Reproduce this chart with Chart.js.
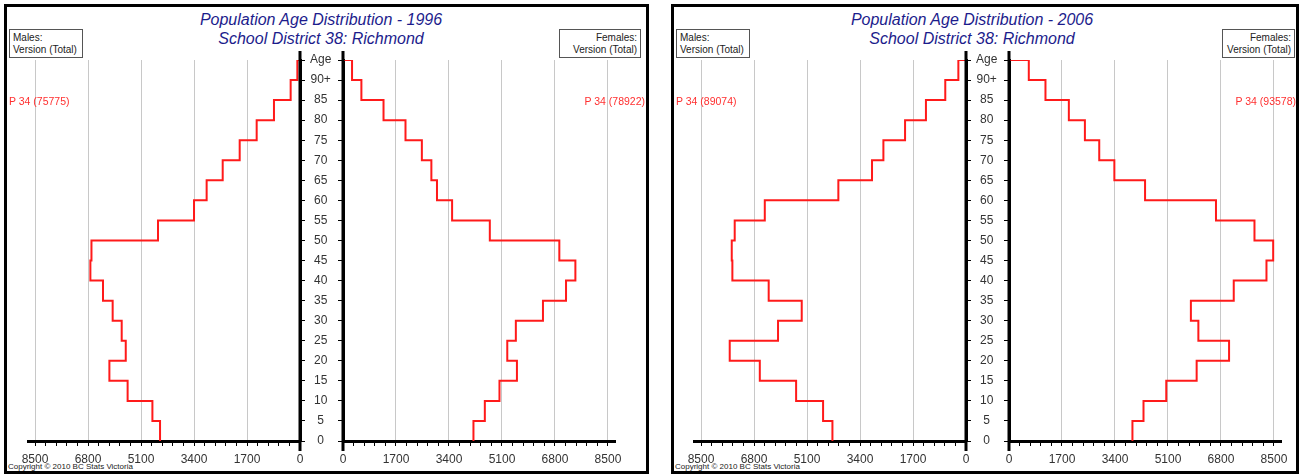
<!DOCTYPE html>
<html>
<head>
<meta charset="utf-8">
<script src="https://cdn.jsdelivr.net/npm/chart.js@4/dist/chart.umd.min.js"></script>
<style>
  body { margin: 0; width: 1300px; height: 474px; position: relative; overflow: hidden; background: #fff;
         font-family: Arial, "Liberation Sans", sans-serif; }
  .panel { position: absolute; border: 3px solid #000; box-sizing: border-box; }
  .title { position: absolute; text-align: center; font-style: italic; color: #1c1c8c; font-size: 16px; line-height: 19px; }
  .box { position: absolute; border: 1px solid #555; font-size: 10px; line-height: 12px; color: #222;
         padding: 2px 3px; box-sizing: border-box; background: #fff; white-space: nowrap; }
  .ptxt { position: absolute; color: #ff3030; font-size: 10.5px; line-height: 12px; z-index: 2; }
  .copy { position: absolute; font-size: 8px; color: #222; line-height: 9px; }
  canvas { position: absolute; z-index: 1; }
</style>
</head>
<body>
<div class="panel" style="left:4px; top:4px; width:645px; height:470px;"></div>
<div class="panel" style="left:671px; top:4px; width:628px; height:470px;"></div>

<div class="title" style="left:121px; top:10px; width:400px;">Population Age Distribution - 1996<br>School District 38: Richmond</div>
<div class="title" style="left:772px; top:10px; width:400px;">Population Age Distribution - 2006<br>School District 38: Richmond</div>

<div class="box" style="left:9px; top:29px; width:74px; height:29px;">Males:<br>Version (Total)</div>
<div class="box" style="left:559px; top:29px; width:82px; height:29px; text-align:right;">Females:<br>Version (Total)</div>
<div class="box" style="left:676px; top:29px; width:74px; height:29px;">Males:<br>Version (Total)</div>
<div class="box" style="left:1222px; top:29px; width:73px; height:29px; text-align:right;">Females:<br>Version (Total)</div>

<div class="ptxt" style="left:9px; top:95px;">P 34 (75775)</div>
<div class="ptxt" style="right:655px; top:95px;">P 34 (78922)</div>
<div class="ptxt" style="left:676px; top:95px;">P 34 (89074)</div>
<div class="ptxt" style="right:4px; top:95px;">P 34 (93578)</div>

<div class="copy" style="left:8px; top:462px;">Copyright © 2010 BC Stats Victoria</div>
<div class="copy" style="left:675px; top:462px;">Copyright © 2010 BC Stats Victoria</div>

<canvas id="m1996" style="left:0px; top:0px;" width="343" height="474"></canvas>
<canvas id="f1996" style="left:330px; top:0px;" width="320" height="474"></canvas>
<canvas id="m2006" style="left:666px; top:0px;" width="343" height="474"></canvas>
<canvas id="f2006" style="left:996px; top:0px;" width="304" height="474"></canvas>

<script>
// age group starts (0-4 ... 90+)
const ageStarts = [0, 5, 10, 15, 20, 25, 30, 35, 40, 45, 50, 55, 60, 65, 70, 75, 80, 85, 90];
const ageTicks = [0, 5, 10, 15, 20, 25, 30, 35, 40, 45, 50, 55, 60, 65, 70, 75, 80, 85, 90, 95];
const ageTickLabels = ['0', '5', '10', '15', '20', '25', '30', '35', '40', '45', '50', '55', '60', '65', '70', '75', '80', '85', '90+', 'Age'];
const xMajorTicks = [0, 1700, 3400, 5100, 6800, 8500];
const xTickLabels = ['0', '1700', '3400', '5100', '6800', '8500'];

const male1996 = [4490, 4735, 5530, 6115, 5590, 5720, 6010, 6320, 6725, 6690, 4555, 3400, 2995, 2480, 1935, 1390, 835, 300, 85];
const female1996 = [4185, 4550, 5020, 5580, 5270, 5545, 6415, 7155, 7455, 6940, 4710, 3500, 3015, 2835, 2530, 2005, 1300, 590, 290];
const male2006 = [4285, 4585, 5450, 6615, 7580, 6030, 5270, 6330, 7495, 7515, 7420, 6455, 4095, 3015, 2650, 1955, 1285, 665, 245];
const female2006 = [3960, 4315, 5045, 6020, 7060, 6075, 5835, 7210, 8260, 8475, 7875, 6640, 4365, 3380, 2895, 2435, 1920, 1170, 635];

const xMax = 8726;
const minorStep = 340;

// step outline: each age group is a vertical run at its value
function buildSteps(values) {
    const pts = [];
    values.forEach((v, i) => {
        pts.push({ x: v, y: ageStarts[i] });
        pts.push({ x: v, y: ageStarts[i] + 5 });
    });
    pts.push({ x: 0, y: ageTicks[ageTicks.length - 1] });
    return pts;
}

// vertical axis runs a little past the plot at top and bottom
const axisExtend = {
    id: 'axisExtend',
    afterDraw(chart) {
        const ctx = chart.ctx;
        const a = chart.chartArea;
        const x = chart.options.plugins.axisExtend.side === 'male' ? a.right : a.left;
        ctx.save();
        ctx.strokeStyle = '#000';
        ctx.lineWidth = 3;
        ctx.beginPath();
        ctx.moveTo(x, a.top - 9);
        ctx.lineTo(x, a.bottom + 10);
        ctx.stroke();
        ctx.restore();
    }
};

function makeChart(canvasId, values, side) {
    const isMale = side === 'male';
    const ctx = document.getElementById(canvasId).getContext('2d');
    return new Chart(ctx, {
        type: 'scatter',
        data: {
            datasets: [{
                data: buildSteps(values),
                showLine: true,
                borderColor: '#ff1a1a',
                borderWidth: 2,
                pointRadius: 0,
                tension: 0
            }]
        },
        options: {
            responsive: false,
            animation: false,
            layout: {
                padding: isMale ? { left: 28, top: 60, right: 0, bottom: 0 }
                                : { left: 0, top: 60, right: canvasId === 'f1996' ? 35 : 19, bottom: 0 }
            },
            scales: {
                x: {
                    type: 'linear',
                    position: 'bottom',
                    min: 0,
                    max: xMax,
                    reverse: isMale,
                    afterBuildTicks: (scale) => {
                        const t = [];
                        for (let v = 0; v <= 8500; v += minorStep) t.push({ value: v });
                        scale.ticks = t;
                    },
                    afterFit: (scale) => { scale.height = 33; },
                    ticks: {
                        autoSkip: false,
                        maxRotation: 0,
                        padding: 6,
                        color: '#333',
                        font: { family: 'Arial, "Liberation Sans"', size: 12 },
                        callback: (value) => {
                            const i = xMajorTicks.indexOf(value);
                            return i >= 0 ? xTickLabels[i] : '';
                        }
                    },
                    grid: {
                        color: (c) => (c.tick && xMajorTicks.includes(c.tick.value) && c.tick.value !== 0) ? '#c8c8c8' : 'rgba(0,0,0,0)',
                        lineWidth: 1,
                        tickColor: '#000',
                        tickLength: 5,
                        tickWidth: 1
                    },
                    border: { color: '#000', width: 3 }
                },
                y: {
                    type: 'linear',
                    position: isMale ? 'right' : 'left',
                    min: 0,
                    max: 95,
                    afterBuildTicks: (scale) => {
                        scale.ticks = ageTicks.map(v => ({ value: v }));
                    },
                    afterFit: (scale) => { scale.width = isMale ? 43 : 13; },
                    ticks: {
                        display: isMale,
                        autoSkip: false,
                        crossAlign: 'center',
                        padding: 5,
                        color: '#333',
                        font: { family: 'Arial, "Liberation Sans"', size: 12 },
                        callback: (value) => {
                            const i = ageTicks.indexOf(value);
                            return i >= 0 ? ageTickLabels[i] : '';
                        }
                    },
                    grid: {
                        drawOnChartArea: false,
                        drawTicks: true,
                        tickColor: '#000',
                        tickLength: 5
                    },
                    border: { color: '#000', width: 3 }
                }
            },
            plugins: {
                legend: { display: false },
                tooltip: { enabled: false },
                axisExtend: { side: side }
            }
        },
        plugins: [axisExtend]
    });
}

makeChart('m1996', male1996, 'male');
makeChart('f1996', female1996, 'female');
makeChart('m2006', male2006, 'male');
makeChart('f2006', female2006, 'female');
</script>
</body>
</html>
